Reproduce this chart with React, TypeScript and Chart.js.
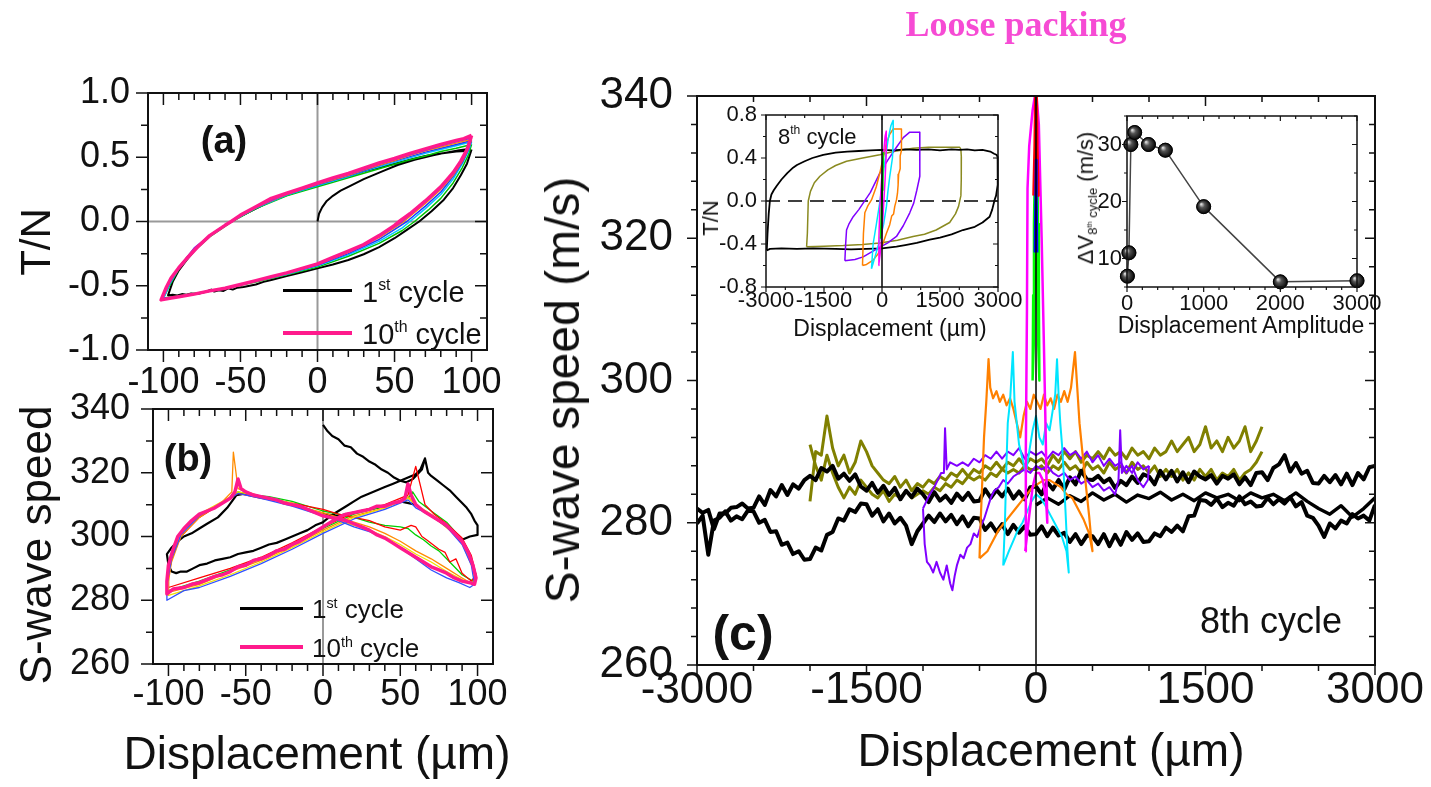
import React, { useEffect, useRef } from "react";
import { Chart, registerables } from "chart.js";

Chart.register(...registerables);

type P = [number, number];

/* ================= Panel (a): T/N vs displacement (µm) ================= */
const aCycle1: P[] = [[0,0],[1,0.06],[3,0.11],[6,0.16],[10,0.2],[15,0.24],[20,0.27],[30,0.33],[42,0.39],[52,0.44],[63,0.48],[75,0.515],[85,0.54],[92,0.555],[98.5,0.565],[99.5,0.55],
  [90,0.545],[80,0.53],[70,0.51],[60,0.48],[50,0.45],[40,0.42],[30,0.39],[20,0.35],[10,0.32],[0,0.28],[-10,0.245],[-20,0.205],[-30,0.16],[-40,0.1],[-50,0.04],[-56,0],[-60,-0.03],[-70,-0.11],[-78,-0.2],[-85,-0.3],[-90,-0.38],[-94,-0.47],[-96,-0.54],[-97,-0.575],
  [-94,-0.57],[-91,-0.575],[-88,-0.565],[-85,-0.57],[-82,-0.56],[-78,-0.565],[-75,-0.555],[-72,-0.545],[-69,-0.53],[-67,-0.545],[-64,-0.535],[-61,-0.54],[-58,-0.52],[-55,-0.53],[-52,-0.515],[-48,-0.51],[-44,-0.5],[-40,-0.49],[-35,-0.47],[-30,-0.455],[-20,-0.425],[-10,-0.395],[0,-0.365],[10,-0.335],[20,-0.3],[30,-0.255],[40,-0.2],[50,-0.13],[58,-0.065],[66,0],[74,0.08],[82,0.17],[88,0.26],[93,0.36],[97,0.45],[100,0.56]];
const aCycle10: P[] = [[100,0.67],[95,0.645],[90,0.63],[80,0.6],[70,0.565],[60,0.53],[50,0.49],[40,0.455],[30,0.415],[20,0.375],[10,0.34],[0,0.3],[-10,0.26],[-20,0.22],[-30,0.18],[-40,0.115],[-50,0.05],[-56,0],[-60,-0.03],[-70,-0.11],[-78,-0.2],[-85,-0.29],[-90,-0.36],[-95,-0.44],[-98,-0.51],[-101.5,-0.61],
  [-95,-0.595],[-90,-0.585],[-80,-0.565],[-70,-0.54],[-60,-0.52],[-50,-0.49],[-40,-0.46],[-30,-0.43],[-20,-0.4],[-10,-0.365],[0,-0.33],[10,-0.28],[20,-0.23],[30,-0.18],[40,-0.11],[50,-0.03],[53,0],[60,0.06],[70,0.16],[80,0.27],[88,0.38],[93,0.47],[97,0.56],[100,0.67]];
const aGreen: P[] = [[100,0.6],[90,0.57],[80,0.545],[70,0.51],[60,0.48],[50,0.445],[40,0.41],[30,0.375],[20,0.34],[10,0.305],[0,0.27],[-20,0.2],[-40,0.1],[-56,-0.005],[-70,-0.12],[-80,-0.23],[-90,-0.37],[-96,-0.5],[-100,-0.595],[-90,-0.58],[-80,-0.56],[-60,-0.52],[-40,-0.47],[-20,-0.415],[0,-0.355],[20,-0.27],[40,-0.17],[55,-0.07],[63,0],[72,0.09],[80,0.18],[88,0.3],[94,0.42],[98,0.52],[100,0.6]];
const aCyan: P[] = [[100,0.62],[90,0.59],[80,0.56],[70,0.53],[60,0.495],[50,0.46],[40,0.425],[30,0.39],[20,0.35],[10,0.315],[0,0.28],[-20,0.205],[-40,0.105],[-56,0],[-70,-0.115],[-80,-0.225],[-90,-0.365],[-96,-0.49],[-100,-0.6],[-90,-0.585],[-80,-0.565],[-60,-0.52],[-40,-0.465],[-20,-0.41],[0,-0.345],[20,-0.26],[40,-0.155],[55,-0.05],[60,0],[70,0.1],[80,0.21],[88,0.33],[94,0.45],[98,0.55],[100,0.62]];
const aBlue: P[] = [[100,0.63],[90,0.6],[80,0.57],[70,0.54],[60,0.505],[50,0.47],[40,0.435],[30,0.395],[20,0.355],[10,0.32],[0,0.285],[-20,0.21],[-40,0.108],[-56,0],[-70,-0.112],[-80,-0.215],[-90,-0.36],[-96,-0.48],[-101,-0.6],[-90,-0.585],[-80,-0.565],[-60,-0.52],[-40,-0.463],[-20,-0.405],[0,-0.34],[20,-0.25],[40,-0.14],[58,0],[70,0.12],[80,0.23],[88,0.35],[94,0.46],[98,0.56],[100,0.63]];
const aOrange: P[] = [[100,0.64],[90,0.61],[80,0.58],[70,0.55],[60,0.515],[50,0.475],[40,0.44],[30,0.4],[20,0.36],[10,0.325],[0,0.29],[-20,0.212],[-40,0.11],[-56,0],[-70,-0.11],[-80,-0.21],[-90,-0.355],[-96,-0.47],[-101,-0.605],[-90,-0.588],[-80,-0.566],[-60,-0.52],[-40,-0.462],[-20,-0.402],[0,-0.335],[20,-0.24],[40,-0.125],[56,0],[70,0.14],[80,0.25],[88,0.36],[94,0.47],[98,0.57],[100,0.64]];
const aViolet: P[] = [[100,0.65],[90,0.62],[80,0.59],[70,0.555],[60,0.52],[50,0.482],[40,0.447],[30,0.405],[20,0.366],[10,0.33],[0,0.293],[-20,0.215],[-40,0.112],[-56,0],[-70,-0.11],[-80,-0.205],[-90,-0.357],[-96,-0.46],[-101,-0.607],[-90,-0.587],[-80,-0.566],[-60,-0.52],[-40,-0.461],[-20,-0.401],[0,-0.332],[20,-0.235],[40,-0.118],[55,0],[70,0.15],[80,0.26],[88,0.37],[94,0.48],[98,0.58],[100,0.65]];

/* ================= Panel (b): S-wave speed vs displacement ================= */
const bCycle1: P[] = [[0,335],[3,333],[6,331.5],[10,330.5],[14,328.5],[18,328],[22,326],[26,325],[30,323.5],[34,322.5],[38,321],[42,320],[46,318.5],[50,317.5],[54,317],[58,318],[62,320],[64,321],[66,324.5],[68,320],[70,319],[74,317.5],[78,316],[82,314.5],[86,312.5],[90,310.5],[93,309],[96,307],[98,305],[100,303.5],[100,300.5],
  [95,300],[90,299],[85,301],[80,303.5],[75,305],[70,306.5],[65,308],[60,310],[50,311],[40,309.5],[30,308.5],[20,307.5],[10,306.5],[0,307],[-10,308.5],[-20,310],[-30,311.5],[-40,312.5],[-50,313.5],[-56,313],[-62,309],[-68,306],[-75,304],[-80,302.5],[-85,301],[-90,300],[-94,298.5],[-98,296.5],[-101,294.5],[-100,291],[-98,289],
  [-95,288.5],[-92,289],[-88,289],[-84,290],[-80,291],[-75,291.5],[-70,292.5],[-65,293],[-60,293.5],[-55,294.5],[-50,295],[-45,295.5],[-40,296.5],[-35,297.5],[-30,298],[-25,299],[-20,300],[-15,301],[-10,302],[-5,303.5],[0,304.5],[5,306.5],[10,308],[15,309.5],[20,311],[25,312.5],[30,313.5],[35,314.5],[40,315.5],[45,316.5],[50,317.5],[55,318.5],[60,319.5],[63,321],[66,324.5]];
const bCycle10: P[] = [[-101,282],[-97,283.5],[-90,284],[-85,285],[-80,285.5],[-75,286.5],[-70,287.5],[-65,288],[-60,289],[-55,290.5],[-50,291],[-45,292.5],[-40,293],[-35,294],[-30,295.5],[-25,296],[-20,297.5],[-15,298.5],[-10,300],[-5,301.5],[0,303],[5,304.5],[10,306],[15,307],[20,307.5],[25,308],[30,308.5],[35,309.5],[40,309.5],[45,310.5],[50,311],[53,312],[55,316.5],[57,313],[60,310],[65,308],[70,306.5],[75,305],[80,303.5],[85,301],[90,298.5],[94,295],[97,291],[99,287],[98,285],
  [95,285.5],[90,286],[85,287],[80,288.5],[75,289.5],[70,290.5],[65,292],[60,293.5],[55,295],[50,296.5],[45,298],[40,299.5],[35,300.5],[30,302],[25,303],[20,304],[15,305],[10,305.5],[5,306],[0,306.5],[-5,307.5],[-10,308.5],[-15,309.5],[-20,310],[-25,310.5],[-30,311.5],[-35,312],[-40,312.5],[-45,313],[-50,314],[-53,315],[-55,318],[-57,314],[-60,312],[-65,310.5],[-70,309],[-75,308],[-80,307],[-85,305],[-90,302.5],[-94,300],[-97,296],[-100,291],[-101,286],[-101,282]];
const bGreen: P[] = [[-100,283],[-80,286],[-60,289.5],[-40,293],[-20,297.5],[0,302.5],[20,307],[40,309.5],[55,312],[58,314],[62,311],[70,308],[80,304.5],[90,299],[96,293],[99,288],[97,286],[90,288],[85,290.5],[80,293],[75,295.5],[70,297],[65,299],[60,300.5],[55,302.5],[50,303],[40,303.5],[30,304.5],[20,306],[10,307],[0,308],[-20,311],[-35,312.5],[-45,313],[-55,314],[-60,312],[-70,309.5],[-80,306.5],[-90,302],[-97,295],[-100,288],[-100,283]];
const bRed: P[] = [[-100,284],[-80,287],[-60,290],[-40,293.5],[-20,298],[0,303],[20,307.5],[40,310],[55,313],[60,322],[62,318],[66,310],[72,307],[80,304],[90,299.5],[96,294],[99,288],[96,286],[90,288.5],[86,293],[82,292],[79,295],[75,296],[71,297.5],[67,299],[64,300],[60,303],[57,303.5],[50,302],[40,303],[30,305],[20,306],[10,307],[0,308.5],[-20,310.5],[-40,312],[-55,313.5],[-65,310.5],[-80,306],[-92,300],[-98,293],[-100,287],[-100,284]];
const bOrange: P[] = [[-100,282.5],[-80,285],[-60,289],[-40,292.5],[-20,297],[0,302],[20,306.5],[40,309],[55,312.5],[62,309],[72,306],[82,302],[92,297],[98,289],[97,285],[90,287],[80,290],[70,293],[60,295.5],[50,298.5],[40,301],[30,303],[20,304.5],[10,306],[0,307.5],[-20,310],[-40,312.5],[-55,315],[-58,326.5],[-59,314],[-65,311],[-80,306],[-92,300],[-98,292],[-100,286],[-100,282.5]];
const bYellow: P[] = [[-100,281.5],[-80,284.5],[-60,288],[-40,292],[-20,296.5],[0,301.5],[20,306],[40,309],[55,312],[60,310],[70,307],[80,303.5],[90,298],[97,290],[98,285],[90,286.5],[80,289],[70,292],[60,294.5],[50,297.5],[40,300],[30,302],[20,303.5],[10,305],[0,307],[-20,310.5],[-40,312.5],[-55,314],[-65,311],[-80,307],[-90,302],[-97,296],[-100,289],[-100,281.5]];
const bBlue: P[] = [[-101,280],[-90,283],[-80,284],[-60,287.5],[-40,291.5],[-20,296],[0,301],[20,305.5],[40,308.5],[55,311.5],[60,309],[70,306.5],[80,303],[90,297.5],[96,291],[98,285],[95,284],[88,285.5],[80,287],[70,289.5],[60,293],[50,296.5],[40,299.5],[30,301.5],[20,303],[10,305],[0,306.5],[-20,309.5],[-40,312],[-55,313.5],[-65,310.5],[-80,306.5],[-92,300.5],[-98,293],[-101,285],[-101,280]];

/* ================= Panel (c): 8th cycle, S-wave speed (m/s) ================= */
const cGrid = [-3000,-2950,-2900,-2850,-2800,-2750,-2700,-2650,-2600,-2550,
  -2500,-2450,-2400,-2350,-2300,-2250,-2200,-2150,-2100,-2050,
  -2000,-1950,-1900,-1850,-1800,-1750,-1700,-1650,-1600,-1550,
  -1500,-1450,-1400,-1350,-1300,-1250,-1200,-1150,-1100,-1050,
  -1000,-950,-900,-850,-800,-750,-700,-650,-600,-550,
  -500,-450,-400,-350,-300,-250,-200,-150,-100,-50,
  0,50,100,150,200,250,300,350,400,450,
  500,550,600,650,700,750,800,850,900,950,
  1000,1050,1100,1150,1200,1250,1300,1350,1400,1450,
  1500,1550,1600,1650,1700,1750,1800,1850,1900,1950,
  2000,2050,2100,2150,2200,2250,2300,2350,2400,2450,
  2500,2550,2600,2650,2700,2750,2800,2850,2900,2950,
  3000];
const cBlackUpper = [282,281.4,281.8,279.1,281.3,281.3,282.1,282.2,282.7,282,
  282.1,283.7,282.5,284.6,283.7,285.3,283.9,285.4,284.8,286,
  286.6,286,287.7,287.2,288,286.2,286.9,285.9,286.8,285.1,
  284.5,285.6,284.2,285.2,283.9,284.9,283.3,284.5,283.6,284.8,
  284,282.9,284.3,283.1,283.8,282.8,284.1,283.2,284.2,283,
  283.1,284.7,283.5,284.6,283.7,284.8,283.4,284.4,283.3,285,
  285.1,284,285.7,284.7,286,284.7,286.4,285.4,287.3,286.1,
  286,286.6,285.7,286.2,284.9,285.9,285.3,286.5,285.6,286.8,
  286.5,285.4,287.3,286.1,287.3,285.8,287.1,285.7,287.2,286.5,
  286.1,286.7,285.5,286.6,286.2,286.8,285.4,286.4,285.3,287,
  287.1,286,287.7,288.2,289.5,287.2,288.4,286.9,287.3,285.6,
  285.5,286.6,285.7,286.7,285.4,286.9,285.3,287,286.1,287.8,
  288];
const cBlackLower = [279.9,281,275.5,280.3,280.7,281.6,280.3,280.9,280.5,281.7,
  281.6,280,280.4,278.7,278.8,276.9,277.2,275.6,276,274.8,
  274.9,276.5,276.1,278.3,278.7,280.6,280.3,281.9,281.5,282.7,
  282.6,281,281.9,280.2,281.3,279.9,280.7,279.6,277,278.8,
  279.9,281,280.1,281.3,280.2,281.1,279.8,280.9,279.5,280.7,
  280.6,279,279.9,278.7,279.8,278.4,279.7,278.6,279.5,278.3,
  278.4,279.5,278.1,279.3,278.2,278.6,277.3,278.4,277,278.2,
  278.1,277,278.4,276.7,278.3,276.9,278.7,277.6,278.5,277.3,
  277.4,278.5,278.1,279.3,278.7,279.6,278.8,280.9,281,283.2,
  283.1,282.5,283.4,282.2,282.8,282.4,283.7,282.6,283,282.3,
  282.4,283.5,282.6,283.3,282.7,283.6,282.3,282.9,281,280.7,
  279.6,278,279.9,279.2,280.3,279.9,281.2,280.6,281,280.3,
  282.5];
const cBlackStart: P[] = [[0,282.5],[100,283.5],[200,282.6],[300,283.8],[400,283],[500,284.2],[600,283.2],[700,284],[800,282.9],[900,283.9],[1000,283.4],[1100,284.3],[1200,283.2],[1300,284],[1400,283.1],[1500,284.2],[1600,283.5],[1700,284],[1800,283.1],[1900,284.2],[2000,283.5],[2100,284],[2200,283.1],[2300,284.2],[2400,283],[2500,282],[2600,281.2],[2700,282.4],[2800,280.8],[2900,282],[3000,283.5]];
const cOliveOut = [283,290,289.5,295,290.5,288,289.5,287,288.5,291.5,
  290,288,287,286,285.5,286.5,285,286,284.5,285.5,
  285,286,285.5,286.5,286,287,286.5,287.5,286.5,287.5,
  287,288,287.5,288.5,287.5,288.5,288,289,288,289,
  288.5,289,288,289.5,288.5,290,289,290,288.5,289.5,
  289,290,289,290.5,289.5,290,289,290.5,289.5,290,
  289,290.5,289.5,290,291.5,290,291,292,290,291,
  293.5,290.5,291.5,290,292,290.5,291.5,293.5,290,291.5,
  293.5];
const cOliveBack = [291,288,286,289.5,287,285,283.5,285,284,286,
  285,284,283.5,284.5,283,284,283.5,284.5,283.5,284,
  284.5,284,285,284.5,285.5,285,286,285.5,286.5,286,
  286.5,286,287,286.5,287.5,287,287.5,287,288,287.5,
  287.5,288,287,288,287.5,288.5,287.5,288,287,288.5,
  287.5,288,287,288.5,287.5,288,287,288.5,287.5,288,
  287,288,286.5,287.5,286.5,287.5,286,287,286,287.5,
  286.5,287.5,286,287,286.5,287.5,286,287,287.5,288.5,
  290];
const cPurpleOut: P[] = [[-1000,282],[-985,277],[-965,274.5],[-940,274],[-910,273],[-880,274.5],[-850,273],[-820,272],[-790,274],[-760,271.5],[-740,270.5],[-720,272.5],[-700,274],[-670,275.5],[-640,275],[-610,276.5],[-580,277],[-550,278.5],[-520,278],[-490,279.5],[-460,280.5],[-430,282],[-400,283.5],[-370,284.5],[-330,285],[-290,286],[-250,285.5],[-200,286.5],[-150,287],[-100,287.5],[-50,287],[0,288],[50,287.5],[100,288],[150,287],[200,286.5],[250,287],[300,286],[350,286.5],[400,285.5],[450,286],[500,285],[550,285.5],[600,284.5],[650,285],[700,284],[730,286],[745,293],[760,287],[800,288],[850,287],[900,288.5],[950,287.5],[1000,288]];
const cPurpleBack: P[] = [[1000,288],[990,286],[950,285],[900,286],[850,288],[800,287],[750,288.5],[700,288],[650,289],[600,288],[550,289.5],[500,288.5],[450,290],[400,289],[350,290],[300,289.5],[250,290.5],[200,289.5],[150,290],[100,289],[50,290],[0,289.5],[-50,290],[-100,289],[-150,290.5],[-200,289.5],[-250,290],[-300,289],[-350,290],[-400,289],[-450,289.5],[-500,288.5],[-550,289],[-600,288],[-650,288.5],[-700,288],[-760,288.5],[-790,287.5],[-805,293.3],[-815,287],[-840,287],[-870,286],[-900,285],[-940,284],[-970,283],[-1000,282]];
const cOrange: P[] = [[-500,275],[-490,280],[-475,286],[-460,292],[-440,297],[-420,303],[-405,299],[-380,297.5],[-350,298.5],[-320,297],[-290,298],[-260,296.5],[-230,297.5],[-200,296],[-170,294],[-140,292],[-110,295],[-80,297],[-50,296],[-20,298],[10,297],[40,296],[70,298],[100,296.5],[130,297.5],[160,296],[190,298],[220,297],[250,298.5],[280,297],[310,299],[345,304],[365,299],[385,294],[410,290],[430,287],[450,284],[470,281],[490,277.5],[500,276],
  [470,278.5],[420,280.5],[370,282],[320,283.5],[270,284],[220,285],[170,285.5],[120,286],[70,286],[20,285.5],[-30,285],[-80,284],[-130,283],[-180,282],[-230,281],[-280,280],[-330,279],[-380,277.5],[-430,276],[-500,275]];
const cCyan: P[] = [[-290,274],[-275,280],[-262,288],[-250,294],[-230,297],[-205,304],[-190,297],[-170,294],[-150,291],[-120,289],[-90,287],[-60,290],[-30,293],[0,295],[30,292],[60,291],[90,294],[120,293],[150,296],[170,298],[186,303],[200,298],[215,294],[230,291],[245,287],[260,282],[275,277],[290,273],
  [270,276],[230,278],[180,279.5],[130,281],[80,282.5],[40,283.5],[0,284],[-40,283],[-80,281.5],[-120,280],[-160,279],[-200,277.5],[-240,276],[-290,274]];
const cMagenta: P[] = [[-95,276],[-90,290],[-80,310],[-75,327],[-60,333],[-30,338],[0,341],[25,336],[50,320],[70,305],[85,293],[100,280],[90,283],[60,286],[30,287],[0,287],[-30,285],[-60,281],[-95,276]];
const cGreen: P[] = [[-30,300],[-25,312],[-18,322],[-10,330],[0,334],[10,330],[18,322],[25,312],[30,300],[20,305],[10,315],[0,320],[-10,315],[-20,305],[-30,300]];
const cRed: P[] = [[-20,326],[-10,333],[-4,340],[0,342],[4,340],[10,333],[20,326],[12,329],[0,335],[-12,329],[-20,326]];
const cBlue: P[] = [[-10,318],[-4,326],[0,331],[4,326],[10,318]];

/* ================= Inset (c1): T/N vs displacement, 8th cycle ================= */
const iBlack: P[] = [[-2980,-0.46],[-2960,-0.3],[-2930,-0.12],[-2900,0],[-2860,0.06],[-2800,0.1],[-2725,0.14],[-2600,0.2],[-2450,0.26],[-2300,0.31],[-2200,0.335],[-2000,0.37],[-1800,0.4],[-1520,0.43],[-1200,0.45],[-900,0.46],[-600,0.465],[-300,0.47],[0,0.475],[300,0.47],[600,0.48],[900,0.475],[1200,0.48],[1500,0.47],[1800,0.48],[2000,0.475],[2200,0.48],[2400,0.47],[2600,0.475],[2800,0.46],[2900,0.44],[2960,0.43],[2990,0.41],[2995,0.3],[2990,0.15],[2950,0.05],[2912,0.01],[2850,-0.08],[2783,-0.146],[2600,-0.2],[2400,-0.24],[2094,-0.27],[1800,-0.31],[1500,-0.34],[1234,-0.36],[900,-0.39],[600,-0.41],[374,-0.425],[0,-0.44],[-400,-0.445],[-800,-0.45],[-1200,-0.445],[-1778,-0.44],[-2200,-0.445],[-2600,-0.44],[-2897,-0.445],[-2980,-0.46]];
const iOlive: P[] = [[-1950,-0.425],[-1930,-0.3],[-1907,0],[-1850,0.09],[-1750,0.17],[-1606,0.23],[-1400,0.29],[-1200,0.33],[-917,0.37],[-500,0.4],[-57,0.43],[300,0.46],[600,0.48],[804,0.49],[1200,0.5],[1600,0.5],[2009,0.5],[2040,0.48],[2052,0.41],[2050,0.2],[2040,0.05],[1980,-0.05],[1900,-0.12],[1750,-0.2],[1400,-0.27],[1100,-0.31],[804,-0.33],[400,-0.365],[-57,-0.39],[-500,-0.405],[-1000,-0.415],[-1500,-0.42],[-1950,-0.425]];
const iPurple: P[] = [[-960,-0.556],[-940,-0.4],[-917,-0.27],[-850,-0.21],[-745,-0.146],[-600,-0.08],[-487,-0.02],[-300,0.08],[-57,0.26],[150,0.38],[374,0.5],[550,0.59],[718,0.64],[976,0.64],[980,0.5],[976,0.23],[900,0.1],[820,-0.02],[718,-0.11],[550,-0.23],[374,-0.33],[150,-0.39],[-57,-0.43],[-300,-0.48],[-487,-0.52],[-700,-0.545],[-960,-0.556]];
const iOrange: P[] = [[-504,-0.6],[-480,-0.3],[-444,-0.11],[-360,-0.04],[-272,0.01],[-150,0.13],[-57,0.26],[30,0.4],[115,0.54],[200,0.62],[288,0.67],[503,0.67],[503,0.47],[470,0.42],[470,0.3],[430,0.25],[417,0.15],[400,0.07],[374,0.01],[330,-0.05],[300,-0.12],[250,-0.14],[200,-0.22],[115,-0.3],[0,-0.42],[-100,-0.49],[-229,-0.55],[-400,-0.59],[-504,-0.6]];
const iCyan: P[] = [[-272,-0.63],[-230,-0.4],[-143,-0.21],[-60,-0.02],[-14,0.1],[60,0.33],[158,0.57],[230,0.7],[288,0.75],[290,0.55],[270,0.4],[201,0.23],[150,0.08],[115,-0.05],[40,-0.22],[-57,-0.36],[-150,-0.48],[-230,-0.58],[-272,-0.63]];
const iMagenta: P[] = [[-85,-0.6],[-80,-0.35],[-60,-0.1],[-20,0.15],[30,0.4],[80,0.6],[110,0.65],[110,0.45],[80,0.2],[40,-0.05],[0,-0.3],[-50,-0.5],[-85,-0.6]];
const iGreen: P[] = [[-40,-0.35],[-20,-0.1],[0,0.1],[25,0.35],[40,0.45],[20,0.2],[0,-0.05],[-20,-0.25],[-40,-0.35]];

/* ================= Inset (c2): ΔV vs displacement amplitude ================= */
const ampValues = [5, 25, 50, 100, 280, 500, 1000, 2000, 3000];
const deltaV = [6.9, 11, 30, 32.1, 30, 29, 19.1, 5.9, 6.1];

/* ================= tick values ================= */
const ticksA_x = [-100, -50, 0, 50, 100];
const ticksA_xMinor = [-90, -80, -70, -60, -40, -30, -20, -10, 10, 20, 30, 40, 60, 70, 80, 90];
const ticksA_y = [-1, -0.5, 0, 0.5, 1];
const ticksA_yMinor = [-0.75, -0.25, 0.25, 0.75];
const ticksB_y = [260, 280, 300, 320, 340];
const ticksB_yMinor = [270, 290, 310, 330];
const ticksC_x = [-3000, -1500, 0, 1500, 3000];
const ticksC_xMinor = [-2500, -2000, -1000, -500, 500, 1000, 2000, 2500];
const ticksC_yMinor = [264, 268, 272, 276, 284, 288, 292, 296, 304, 308, 312, 316, 324, 328, 332, 336];
const ticksI_y = [-0.8, -0.4, 0, 0.4, 0.8];
const ticksI_yMinor = [-0.6, -0.2, 0.2, 0.6];
const ticksJ_x = [0, 1000, 2000, 3000];
const ticksJ_xMinor = [200, 400, 600, 800, 1200, 1400, 1600, 1800, 2200, 2400, 2600, 2800];
const ticksJ_y = [10, 20, 30];
const ticksJ_yMinor = [5, 15, 25, 35];

/* ================= helpers ================= */
const FONT = "'Liberation Sans', Arial, Helvetica, sans-serif";
const PINK = "#ff1a8c";

const line = (pts: P[], color: string, width: number) => ({
  data: pts.map(([x, y]) => ({ x, y })),
  borderColor: color,
  backgroundColor: color,
  borderWidth: width,
  pointRadius: 0,
  showLine: true,
  fill: false,
  tension: 0,
  clip: 1,
  borderJoinStyle: "round",
});
const lineXY = (xs: number[], ys: number[], color: string, width: number) =>
  line(xs.map((x, i) => [x, ys[i]] as P), color, width);

interface AxisSpec { min: number; max: number; major: number[]; minor: number[]; font: number; pad: number; fmt?: (v: number) => string }
interface Guide { axis: "x" | "y"; value: number; color: string; width: number; dash?: number[]; front?: boolean }
interface Spec {
  box: { l: number; t: number; w: number; h: number };
  area: { l: number; t: number; r: number; b: number };
  x: AxisSpec; y: AxisSpec;
  datasets: any[];
  tick: { major: number; minor: number; width: number; frame: number };
  guides: Guide[];
  spheres?: boolean;
}

function makeFrame(s: Spec) {
  const drawGuides = (chart: any, front: boolean) => {
    const { ctx, chartArea: a, scales } = chart;
    s.guides.filter((g) => !!g.front === front).forEach((g) => {
      ctx.save();
      ctx.strokeStyle = g.color;
      ctx.lineWidth = g.width;
      ctx.setLineDash(g.dash || []);
      ctx.beginPath();
      if (g.axis === "x") {
        const p = scales.x.getPixelForValue(g.value);
        ctx.moveTo(p, a.top); ctx.lineTo(p, a.bottom);
      } else {
        const p = scales.y.getPixelForValue(g.value);
        ctx.moveTo(a.left, p); ctx.lineTo(a.right, p);
      }
      ctx.stroke();
      ctx.restore();
    });
  };
  const drawSpheres = (chart: any) => {
    if (!s.spheres) return;
    const { ctx } = chart;
    const meta = chart.getDatasetMeta(0);
    meta.data.forEach((el: any) => {
      const px = el.x, py = el.y;
      if (!isFinite(px) || !isFinite(py)) return;
      const g = ctx.createRadialGradient(px - 2.5, py - 2.5, 0.5, px, py, 7);
      g.addColorStop(0, "#d8d8d8");
      g.addColorStop(0.35, "#555");
      g.addColorStop(1, "#050505");
      ctx.save();
      ctx.beginPath();
      ctx.arc(px, py, 7, 0, Math.PI * 2);
      ctx.fillStyle = g;
      ctx.fill();
      ctx.lineWidth = 0.8;
      ctx.strokeStyle = "#000";
      ctx.stroke();
      ctx.restore();
    });
  };
  return {
    id: "frameTicks",
    beforeDatasetsDraw(chart: any) { drawGuides(chart, false); },
    afterDatasetsDraw(chart: any) { drawGuides(chart, true); drawSpheres(chart); },
    afterDraw(chart: any) {
      const { ctx, chartArea: a, scales } = chart;
      ctx.save();
      ctx.strokeStyle = "#111";
      ctx.lineWidth = s.tick.width;
      ctx.setLineDash([]);
      const xt = (vals: number[], len: number) => vals.forEach((v) => {
        const p = scales.x.getPixelForValue(v);
        ctx.beginPath();
        ctx.moveTo(p, a.bottom); ctx.lineTo(p, a.bottom + len);
        ctx.moveTo(p, a.top); ctx.lineTo(p, a.top + len);
        ctx.stroke();
      });
      const yt = (vals: number[], len: number) => vals.forEach((v) => {
        const p = scales.y.getPixelForValue(v);
        ctx.beginPath();
        ctx.moveTo(a.left, p); ctx.lineTo(a.left - len, p);
        ctx.moveTo(a.right, p); ctx.lineTo(a.right - len, p);
        ctx.stroke();
      });
      xt(s.x.major, s.tick.major); xt(s.x.minor, s.tick.minor);
      yt(s.y.major, s.tick.major); yt(s.y.minor, s.tick.minor);
      ctx.lineWidth = s.tick.frame;
      ctx.strokeRect(a.left, a.top, a.right - a.left, a.bottom - a.top);
      ctx.restore();
    },
  };
}

function axisCfg(a: AxisSpec, which: "x" | "y", size: number) {
  return {
    type: "linear",
    min: a.min,
    max: a.max,
    position: which === "x" ? "bottom" : "left",
    grid: { display: false, drawTicks: false },
    border: { display: false },
    ticks: {
      autoSkip: false, maxRotation: 0, minRotation: 0, padding: a.pad, color: "#111",
      font: { family: FONT, size: a.font, lineHeight: 1 },
      callback: (v: any) => (a.fmt ? a.fmt(Number(v)) : String(v)),
    },
    afterBuildTicks: (sc: any) => { sc.ticks = a.major.map((v) => ({ value: v })); },
    afterFit: (sc: any) => { if (which === "x") sc.height = size; else sc.width = size; },
  };
}

function buildConfig(s: Spec): any {
  const yW = s.area.l - s.box.l;
  const xH = s.box.t + s.box.h - s.area.b;
  return {
    type: "scatter",
    data: { datasets: s.datasets },
    options: {
      animation: false, responsive: false, devicePixelRatio: 1, events: [],
      layout: { padding: { left: 0, top: s.area.t - s.box.t, right: s.box.l + s.box.w - s.area.r, bottom: 0 } },
      plugins: { legend: { display: false }, tooltip: { enabled: false } },
      scales: { x: axisCfg(s.x, "x", xH), y: axisCfg(s.y, "y", yW) },
    },
    plugins: [makeFrame(s)],
  };
}

function Plot({ spec }: { spec: Spec }) {
  const ref = useRef<HTMLCanvasElement>(null);
  useEffect(() => {
    const chart = new Chart(ref.current as HTMLCanvasElement, buildConfig(spec));
    return () => chart.destroy();
  }, [spec]);
  const { box } = spec;
  return (
    <canvas ref={ref} width={box.w} height={box.h}
      style={{ position: "absolute", left: box.l, top: box.t, width: box.w, height: box.h }} />
  );
}

function Txt(props: { x: number; y: number; size: number; rot?: number; bold?: boolean; color?: string; family?: string; left?: boolean; children: React.ReactNode }) {
  const { x, y, size, rot = 0, bold, color = "#111", family = FONT, left, children } = props;
  return (
    <div style={{
      position: "absolute", left: x, top: y, whiteSpace: "nowrap", lineHeight: 1,
      fontFamily: family, fontSize: size, fontWeight: bold ? 700 : 400, color,
      transform: `translate(${left ? "0" : "-50%"}, -50%) rotate(${rot}deg)`,
    }}>{children}</div>
  );
}
const Sup = ({ children }: { children: React.ReactNode }) => (
  <span style={{ fontSize: "0.55em", verticalAlign: "0.75em" }}>{children}</span>
);
const Bar = ({ x, y, w, h, c }: { x: number; y: number; w: number; h: number; c: string }) => (
  <div style={{ position: "absolute", left: x, top: y - h / 2, width: w, height: h, background: c }} />
);

/* ================= chart specs ================= */
const fmt1 = (v: number) => v.toFixed(1);

const specA: Spec = {
  box: { l: 0, t: 40, w: 545, h: 370 },
  area: { l: 148, t: 93, r: 487, b: 350 },
  x: { min: -110, max: 110, major: ticksA_x, minor: ticksA_xMinor, font: 36, pad: 15 },
  y: { min: -1, max: 1, major: ticksA_y, minor: ticksA_yMinor, font: 36, pad: 18, fmt: fmt1 },
  datasets: [
    line(aCycle10, PINK, 3.5),
    line(aViolet, "#8a2be2", 1.5),
    line(aOrange, "#ff8c00", 1.5),
    line(aBlue, "#1e3cff", 1.5),
    line(aCyan, "#00c8ff", 1.5),
    line(aGreen, "#00c000", 1.5),
    line(aCycle1, "#000", 2),
  ],
  tick: { major: 12, minor: 7, width: 1.5, frame: 2 },
  guides: [
    { axis: "x", value: 0, color: "#999", width: 2 },
    { axis: "y", value: 0, color: "#999", width: 2 },
  ],
};

const specB: Spec = {
  box: { l: 0, t: 350, w: 550, h: 437 },
  area: { l: 153, t: 409, r: 493, b: 664 },
  x: { min: -110, max: 110, major: ticksA_x, minor: ticksA_xMinor, font: 36, pad: 13 },
  y: { min: 260, max: 340, major: ticksB_y, minor: ticksB_yMinor, font: 36, pad: 23 },
  datasets: [
    line(bCycle10, PINK, 3.5),
    line(bBlue, "#3050ff", 1.3),
    line(bYellow, "#f0e000", 1.3),
    line(bOrange, "#ff8c00", 1.3),
    line(bRed, "#ff0000", 1.3),
    line(bGreen, "#00d000", 1.3),
    line(bCycle1, "#000", 2.2),
  ],
  tick: { major: 12, minor: 7, width: 1.5, frame: 2 },
  guides: [{ axis: "x", value: 0, color: "#999", width: 2 }],
};

const specC: Spec = {
  box: { l: 520, t: 36, w: 911, h: 751 },
  area: { l: 697, t: 96, r: 1375, b: 665 },
  x: { min: -3000, max: 3000, major: ticksC_x, minor: ticksC_xMinor, font: 44, pad: 4 },
  y: { min: 260, max: 340, major: ticksB_y, minor: ticksC_yMinor, font: 44, pad: 24 },
  datasets: [
    line(cBlue, "#0000ff", 2.5),
    line(cRed, "#ff0000", 3),
    line(cGreen, "#00ff00", 2.5),
    line(cMagenta, "#ff00ff", 2.5),
    line(cCyan, "#00e5ff", 2),
    line(cOrange, "#ff8000", 2.2),
    line(cPurpleOut, "#8000ff", 2),
    line(cPurpleBack, "#8000ff", 2),
    lineXY(cGrid, cBlackUpper, "#000", 4),
    lineXY(cGrid, cBlackLower, "#000", 4),
    line(cBlackStart, "#000", 3.4),
    lineXY(cGrid.slice(20, 101), cOliveOut, "#808000", 3),
    lineXY(cGrid.slice(20, 101), cOliveBack, "#808000", 3),
  ],
  tick: { major: 10, minor: 6, width: 1.5, frame: 2 },
  guides: [{ axis: "x", value: 0, color: "#000", width: 1.5, front: true }],
};

const specI: Spec = {
  box: { l: 680, t: 80, w: 350, h: 265 },
  area: { l: 766, t: 115, r: 998, b: 287 },
  x: { min: -3000, max: 3000, major: ticksC_x, minor: ticksC_xMinor, font: 22, pad: 3 },
  y: { min: -0.8, max: 0.8, major: ticksI_y, minor: ticksI_yMinor, font: 22, pad: 9, fmt: fmt1 },
  datasets: [
    line(iGreen, "#00e000", 1.5),
    line(iMagenta, "#ff00ff", 1.5),
    line(iCyan, "#00e5ff", 1.5),
    line(iOrange, "#ff8000", 1.5),
    line(iPurple, "#8000ff", 1.5),
    line(iBlack, "#000", 1.8),
    line(iOlive, "#8a8a20", 1.5),
  ],
  tick: { major: 5, minor: 3, width: 1.2, frame: 1.5 },
  guides: [
    { axis: "y", value: 0, color: "#000", width: 1.5, dash: [14, 8] },
    { axis: "x", value: 0, color: "#000", width: 1.5, front: true },
  ],
};

const specJ: Spec = {
  box: { l: 1090, t: 80, w: 300, h: 265 },
  area: { l: 1127, t: 116, r: 1357, b: 287 },
  x: { min: 0, max: 3000, major: ticksJ_x, minor: ticksJ_xMinor, font: 22, pad: 6 },
  y: { min: 5, max: 35, major: ticksJ_y, minor: ticksJ_yMinor, font: 22, pad: 5 },
  datasets: [
    {
      ...lineXY(ampValues, deltaV, "#444", 1.5),
      pointRadius: 7,
      pointBackgroundColor: "#2b2b2b",
      pointBorderColor: "#000",
      pointBorderWidth: 0.8,
      clip: 9,
    },
  ],
  tick: { major: 5, minor: 3, width: 1.2, frame: 1.5 },
  guides: [],
  spheres: true,
};

export default function App() {
  return (
    <div style={{ position: "absolute", left: 0, top: 0, width: 1431, height: 787, background: "#fff", overflow: "hidden" }}>
      <Plot spec={specA} />
      <Plot spec={specB} />
      <Plot spec={specC} />
      <Plot spec={specI} />
      <Plot spec={specJ} />

      <Txt x={1016} y={24} size={36} bold color="#f64bd4" family="'Liberation Serif', 'Times New Roman', serif">Loose packing</Txt>

      {/* panel (a) */}
      <Txt x={36} y={242} size={42} rot={-90}>T/N</Txt>
      <Txt x={224} y={140} size={38} bold>(a)</Txt>
      <Bar x={283} y={290} w={69} h={3} c="#000" />
      <Bar x={283} y={333} w={69} h={4} c={PINK} />
      <Txt x={362} y={292} size={29} left>1<Sup>st</Sup> cycle</Txt>
      <Txt x={362} y={334} size={29} left>10<Sup>th</Sup> cycle</Txt>

      {/* panel (b) */}
      <Txt x={36} y={545} size={44} rot={-90}>S-wave speed</Txt>
      <Txt x={188} y={458} size={38} bold>(b)</Txt>
      <Txt x={317} y={753} size={46}>Displacement (µm)</Txt>
      <Bar x={240} y={608} w={63} h={3} c="#000" />
      <Bar x={240} y={647} w={63} h={4} c={PINK} />
      <Txt x={312} y={609} size={26} left>1<Sup>st</Sup> cycle</Txt>
      <Txt x={312} y={648} size={26} left>10<Sup>th</Sup> cycle</Txt>

      {/* panel (c) */}
      <Txt x={563} y={390} size={48} rot={-90}>S-wave speed (m/s)</Txt>
      <Txt x={1051} y={750} size={46}>Displacement (µm)</Txt>
      <Txt x={743} y={633} size={50} bold>(c)</Txt>
      <Txt x={1200} y={621} size={36} left>8th cycle</Txt>

      {/* inset 1 */}
      <Txt x={711} y={218} size={22} rot={-90}>T/N</Txt>
      <Txt x={890} y={328} size={23}>Displacement (µm)</Txt>
      <Txt x={778} y={136} size={22} left>8<Sup>th</Sup> cycle</Txt>

      {/* inset 2 */}
      <Txt x={1241} y={325} size={23}>Displacement Amplitude</Txt>
      <Txt x={1087} y={198} size={22} rot={-90}>
        ΔV<span style={{ fontSize: "0.6em", verticalAlign: "-0.3em" }}>8<Sup>th</Sup> cycle</span> (m/s)
      </Txt>
    </div>
  );
}
